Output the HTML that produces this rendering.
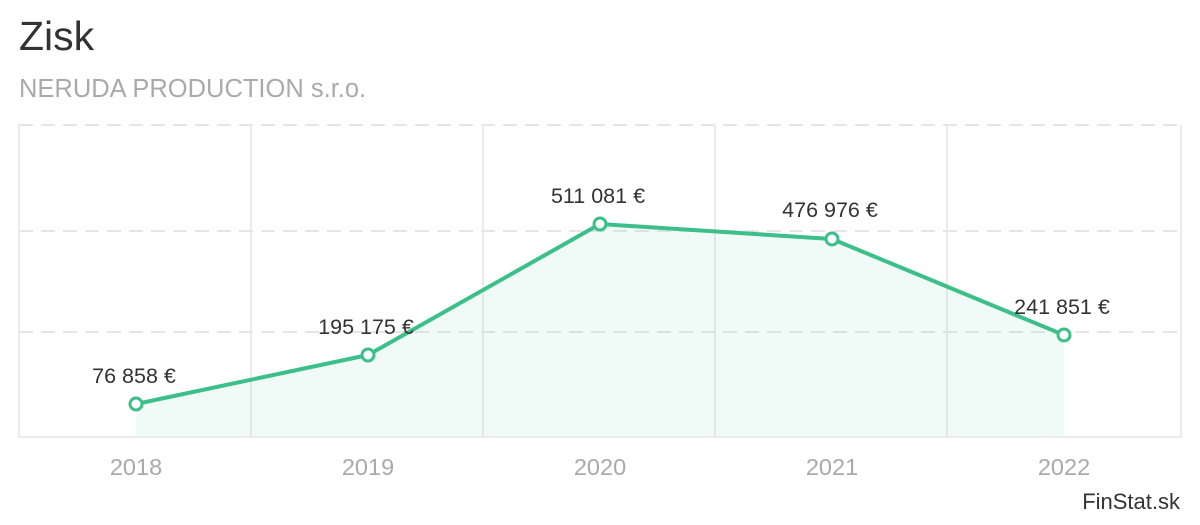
<!DOCTYPE html>
<html><head><meta charset="utf-8"><style>
body{margin:0;background:#fff;width:1200px;height:520px;overflow:hidden;font-family:"Liberation Sans",sans-serif}
</style></head><body>
<svg width="1200" height="520" xmlns="http://www.w3.org/2000/svg" font-family="Liberation Sans, sans-serif">
<text x="19" y="50" font-size="41" fill="#333">Zisk</text>
<text x="19" y="97" font-size="25.5" fill="#aaa">NERUDA PRODUCTION s.r.o.</text>
<g stroke="#ebebeb" stroke-width="2">
<line x1="19" y1="125" x2="19" y2="437"/>
<line x1="251" y1="125" x2="251" y2="437"/>
<line x1="483" y1="125" x2="483" y2="437"/>
<line x1="715" y1="125" x2="715" y2="437"/>
<line x1="947" y1="125" x2="947" y2="437"/>
<line x1="1181" y1="125" x2="1181" y2="437"/>
<line x1="19" y1="437" x2="1181" y2="437"/>
</g>
<g stroke="#e6e6e6" stroke-width="2" stroke-dasharray="14,8">
<line x1="19" y1="125" x2="1181" y2="125"/>
<line x1="19" y1="231" x2="1181" y2="231"/>
<line x1="19" y1="332" x2="1181" y2="332"/>
</g>
<polygon points="136,404 368,355 600,224 832,239 1064,335 1064,436 136,436" fill="#3cbf8a" fill-opacity="0.08"/>
<polyline points="136,404 368,355 600,224 832,239 1064,335" fill="none" stroke="#3cbf8a" stroke-width="4" stroke-linejoin="round"/>
<g fill="#fff" stroke="#3cbf8a" stroke-width="3">
<circle cx="136" cy="404" r="6"/><circle cx="368" cy="355" r="6"/><circle cx="600" cy="224" r="6"/><circle cx="832" cy="239" r="6"/><circle cx="1064" cy="335" r="6"/>
</g>
<g font-size="21.5" fill="#333" text-anchor="middle">
<text x="134" y="383">76 858 €</text>
<text x="366" y="334">195 175 €</text>
<text x="598" y="203">511 081 €</text>
<text x="830" y="217">476 976 €</text>
<text x="1062" y="314">241 851 €</text>
</g>
<g font-size="23.5" fill="#aaa" text-anchor="middle">
<text x="136" y="475">2018</text><text x="368" y="475">2019</text><text x="600" y="475">2020</text><text x="832" y="475">2021</text><text x="1064" y="475">2022</text>
</g>
<text x="1180" y="509" font-size="22" fill="#333" text-anchor="end">FinStat.sk</text>
</svg>
</body></html>
